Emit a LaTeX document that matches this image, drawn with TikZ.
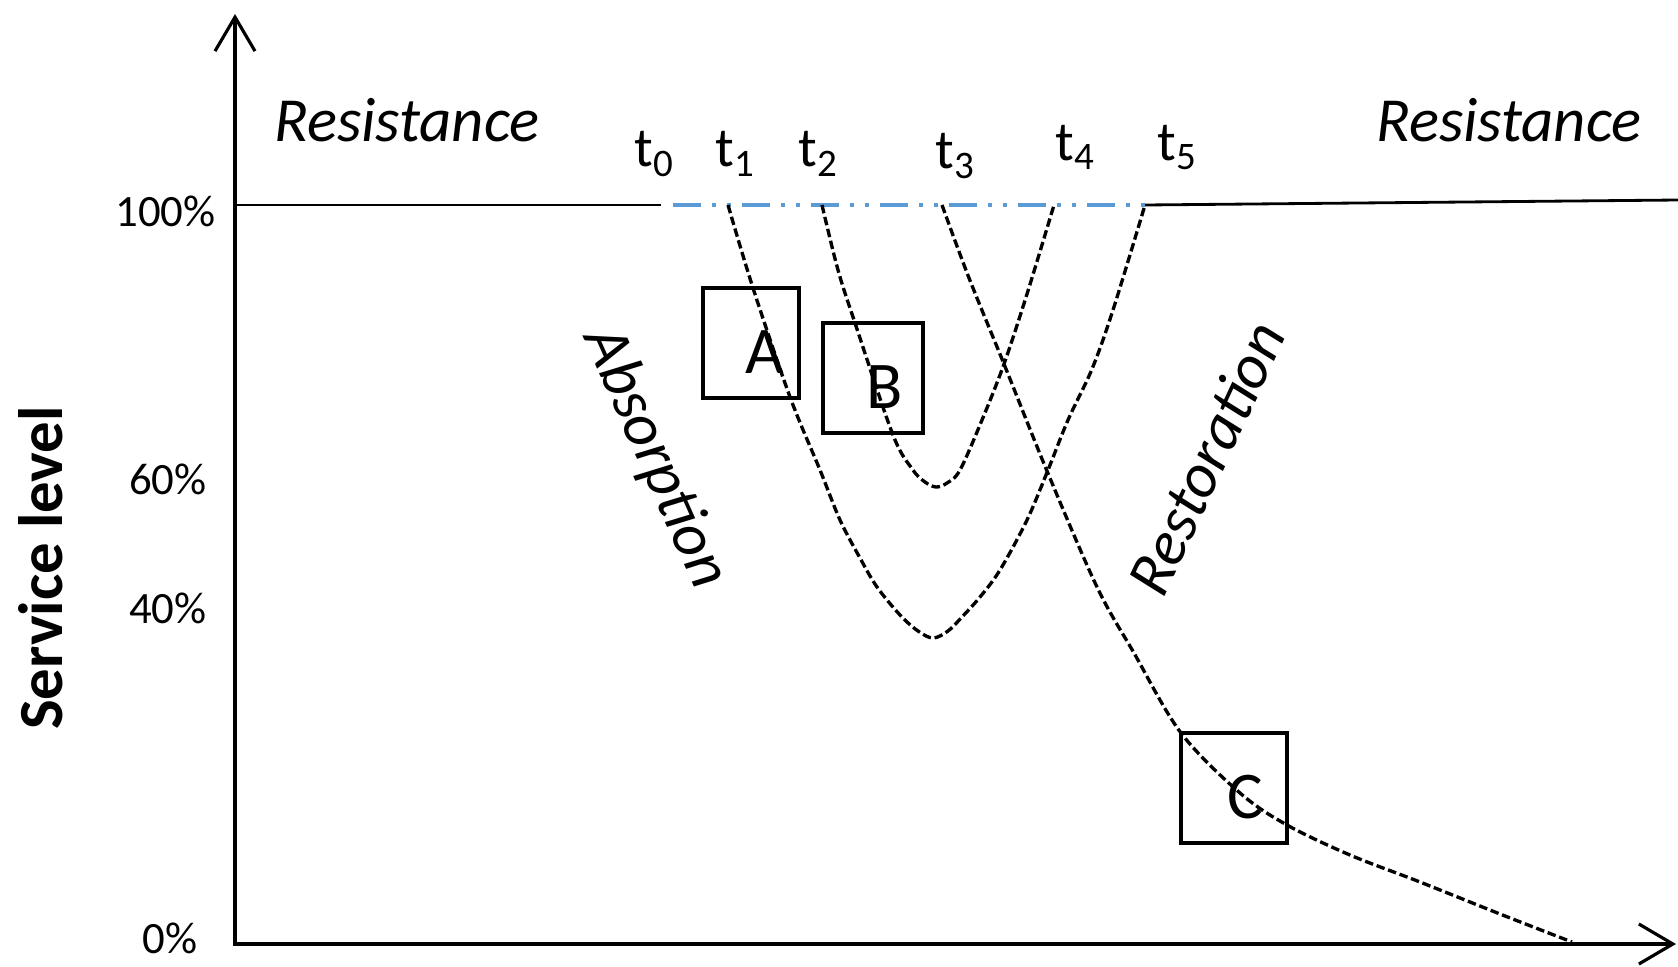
\documentclass[tikz,border=0pt]{standalone}
\usepackage{fontspec}
\setmainfont{Carlito}
\usetikzlibrary{arrows.meta,positioning}
\definecolor{officeblue}{RGB}{91,155,213}

\begin{document}
\begin{tikzpicture}[x=0.02cm, y=-0.02cm,
    >={Straight Barb[length=0.68cm, width=0.8cm]},
    axis/.style={<->, line width=1.8pt},
    level/.style={line width=1.6pt},
    recovery/.style={line width=1.9pt, dash pattern=on 0.17cm off 0.075cm},
    stagebox/.style={rectangle, draw, line width=2.6pt, inner sep=0pt, minimum height=2.2cm},
    letter/.style={font=\fontsize{38}{44}\selectfont},
    tick/.style={anchor=east, inner sep=0pt, font=\fontsize{25.5}{30}\selectfont},
    tlabel/.style={anchor=base, inner sep=0pt, font=\fontsize{31.7}{36}\selectfont},
    phase/.style={font=\itshape\fontsize{35.7}{40}\selectfont},
]
    \useasboundingbox (0,0) rectangle (1678,967);

    % axes
    \coordinate (origin) at (235,944);
    \coordinate (ytop) at (235,14);
    \coordinate (xend) at (1676,944);
    \draw[axis] (ytop) -- (origin) -- (xend);

    % 100% level and the interval t0..t5
    \coordinate (full) at (235,205);
    \coordinate (t0) at (666,205);
    \coordinate (t5) at (1145,205);
    \coordinate (fullend) at (1678,200);
    \draw[level] (full) -- ([xshift=-3]t0);
    \draw[level, line width=1.9pt, officeblue, dash pattern=on 0.56cm off 0.22cm on 0.08cm off 0.22cm on 0.08cm off 0.22cm] ([xshift=4]t0) -- (t5);
    \draw[level] (t5) -- (fullend);

    % recovery curves
    \draw[recovery] plot[smooth, tension=0.55] coordinates {(728,205) (753,288) (790,397) (820,470) (840,520) (860,558) (877,587) (900,615) (918,631) (933,638) (948,631) (962,617) (980,597) (1000,570) (1027,520) (1048,470) (1068,420) (1092,369) (1113,310) (1145,205)};
    \draw[recovery] plot[smooth, tension=0.55] coordinates {(822,205) (838,270) (855,323) (893,435) (913,470) (925,482) (936,487) (947,483) (960,470) (982,420) (1004,364) (1027,294) (1054,205)};
    \draw[recovery] plot[smooth, tension=0.55] coordinates {(942,205) (969,278) (1004,364) (1047,471) (1097,587) (1134,653) (1181,733) (1240,793) (1287,825) (1350,855) (1420,882) (1500,914) (1572,942)};

    % stage boxes
    \node[stagebox, minimum width=1.92cm] (boxA) at (751,343) {};
    \node[stagebox, minimum width=2.0cm] (boxB) at (873,378) {};
    \node[stagebox, minimum width=2.12cm] (boxC) at (1234,788) {};
    \node[letter] (letterA) at (765,352) {A};
    \node[letter] (letterB) at (885,387) {B};
    \node[letter] (letterC) at (1245,797) {C};

    % time marks
    \node[tlabel] (lt0) at (654,166) {t\textsubscript{0}};
    \node[tlabel] (lt1) at (735,166) {t\textsubscript{1}};
    \node[tlabel] (lt2) at (818,166) {t\textsubscript{2}};
    \node[tlabel] (lt3) at (955,168) {t\textsubscript{3}};
    \node[tlabel] (lt4) at (1075,160) {t\textsubscript{4}};
    \node[tlabel] (lt5) at (1177,160) {t\textsubscript{5}};

    % phases
    \node[phase] (resistL) at (407,120) {Resistance};
    \node[phase] (resistR) at (1509,120) {Resistance};
    \node[phase, rotate=-66] (absorb) at (655,458) {Absorption};
    \node[phase, rotate=65] (restore) at (1206,458) {Restoration};

    % level ticks
    \node[tick] (p100) at (216,211) {100\%};
    \node[tick] (p60) at (207,479) {60\%};
    \node[tick] (p40) at (207,608) {40\%};
    \node[tick] (p0) at (198,938) {0\%};
    \node[rotate=90, font=\bfseries\fontsize{35.7}{40}\selectfont] (ylabel) at (41,568) {Service level};
\end{tikzpicture}
\end{document}
